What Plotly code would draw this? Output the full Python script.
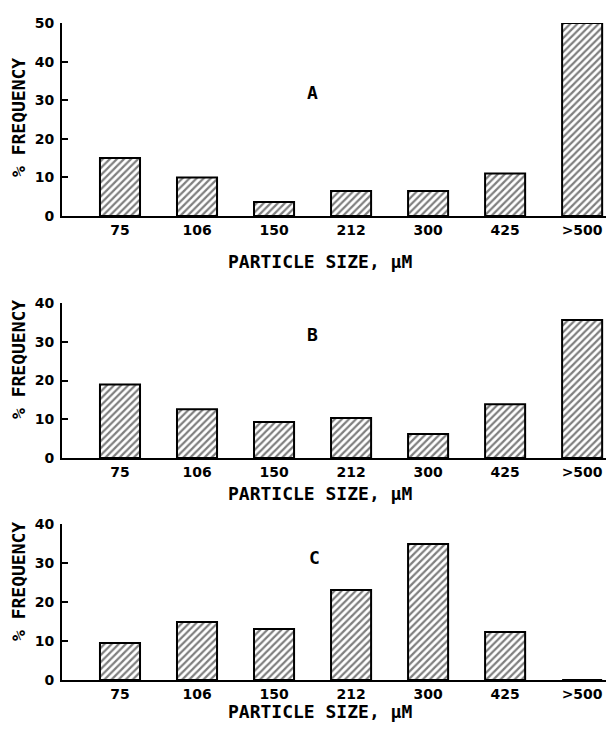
import plotly.graph_objects as go

# Particle size classes (µm) and % frequency for the three samples
sizes = ["75", "106", "150", "212", "300", "425", ">500"]
freq_a = [15, 10, 3.6, 6.5, 6.5, 11, 50]
freq_b = [19, 12.6, 9.3, 10.3, 6.2, 13.9, 35.6]
freq_c = [9.5, 14.9, 13.1, 23.1, 34.9, 12.3, 0]

panel_labels = ["A", "B", "C"]
y_max = [50, 40, 40]
y_ticks = [[0, 10, 20, 30, 40, 50], [0, 10, 20, 30, 40], [0, 10, 20, 30, 40]]

W, H = 606, 731


def fx(px):
    return px / W


def fy(py):
    return 1 - py / H


# pixel geometry of each panel: zero line, top of y range
zero_px = [216, 458, 680]
top_px = [23, 303, 524]

TICK_FONT = dict(family="DejaVu Sans", size=14, color="black", weight="bold")
TEXT_FONT = dict(family="DejaVu Sans Mono", size=18, color="black", weight="bold")

fig = go.Figure()
series = [freq_a, freq_b, freq_c]

for i, vals in enumerate(series):
    n = i + 1
    xa = "x" if n == 1 else f"x{n}"
    ya = "y" if n == 1 else f"y{n}"
    fig.add_trace(go.Bar(
        x=sizes, y=vals, xaxis=xa, yaxis=ya,
        marker=dict(
            color="white",
            line=dict(color="black", width=2),
            pattern=dict(shape="/", size=5, solidity=0.45,
                         fgcolor="black", bgcolor="white"),
        ),
        showlegend=False,
    ))

    xkey = "xaxis" if n == 1 else f"xaxis{n}"
    ykey = "yaxis" if n == 1 else f"yaxis{n}"
    fig.update_layout({
        xkey: dict(
            type="category", anchor=ya, domain=[fx(62), 1],
            range=[-0.753, 6.31], showline=True, linecolor="black",
            linewidth=1.6, ticks="", showgrid=False, zeroline=False,
            tickfont=TICK_FONT, ticklabelstandoff=0, fixedrange=True,
        ),
        ykey: dict(
            anchor=xa, domain=[fy(zero_px[i]), fy(top_px[i])],
            range=[0, y_max[i]], tickvals=y_ticks[i], showline=True,
            linecolor="black", linewidth=2, ticks="inside", ticklen=6,
            tickwidth=2, tickcolor="black", showgrid=False, zeroline=False,
            tickfont=TICK_FONT, ticklabelstandoff=3, fixedrange=True,
        ),
    })

annotations = []
letter_pos = [(312, 92), (312, 335), (314, 557)]
xtitle_y = [261, 493, 711]
for i in range(3):
    annotations.append(dict(
        text=panel_labels[i], x=fx(letter_pos[i][0]), y=fy(letter_pos[i][1]),
        xref="paper", yref="paper", showarrow=False, font=TEXT_FONT,
        xanchor="center", yanchor="middle",
    ))
    annotations.append(dict(
        text="PARTICLE SIZE, µM", x=fx(320), y=fy(xtitle_y[i]),
        xref="paper", yref="paper", showarrow=False, font=TEXT_FONT,
        xanchor="center", yanchor="middle",
    ))
    annotations.append(dict(
        text="% FREQUENCY", x=fx(18), y=fy(zero_px[i] - 98),
        xref="paper", yref="paper", showarrow=False, font=TEXT_FONT,
        textangle=-90, xanchor="center", yanchor="middle",
    ))

fig.update_layout(
    width=W, height=H,
    margin=dict(l=0, r=0, t=0, b=0, autoexpand=False),
    paper_bgcolor="white", plot_bgcolor="white",
    bargap=0.48,
    annotations=annotations,
)

fig.write_html("out.html", config={"displayModeBar": False})
